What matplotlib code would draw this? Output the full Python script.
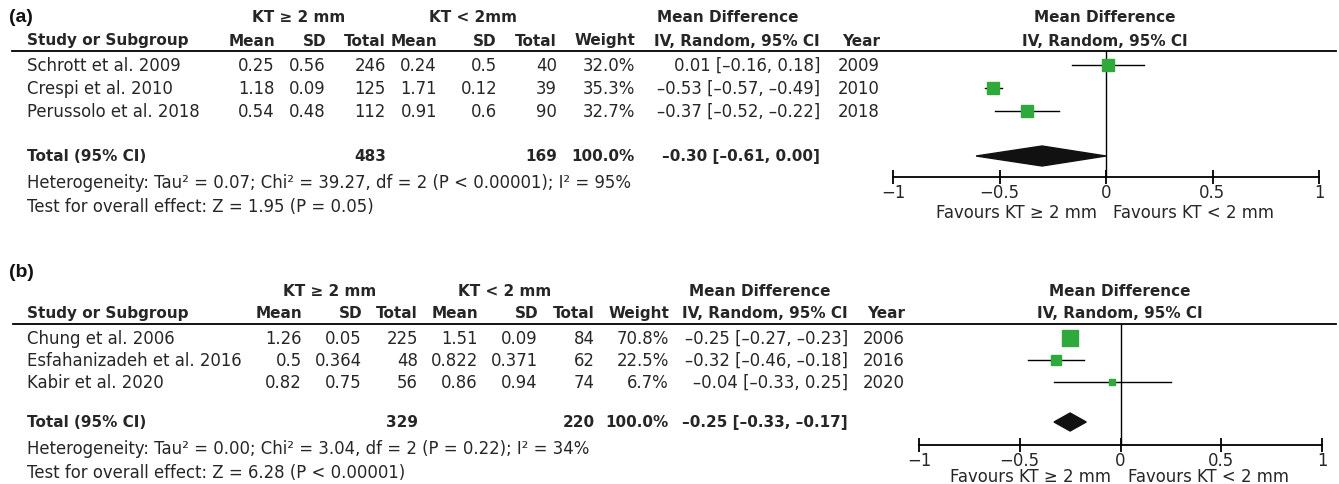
import matplotlib
matplotlib.use("Agg")
import matplotlib.pyplot as plt
from matplotlib.patches import Polygon

# ---- panel (a) data ----
a_study = ["Schrott et al. 2009", "Crespi et al. 2010", "Perussolo et al. 2018"]
a_mean1 = [0.25, 1.18, 0.54]
a_sd1 = [0.56, 0.09, 0.48]
a_n1 = [246, 125, 112]
a_mean2 = [0.24, 1.71, 0.91]
a_sd2 = [0.5, 0.12, 0.6]
a_n2 = [40, 39, 90]
a_weight = [32.0, 35.3, 32.7]
a_md = [0.01, -0.53, -0.37]
a_lo = [-0.16, -0.57, -0.52]
a_hi = [0.18, -0.49, -0.22]
a_year = [2009, 2010, 2018]
a_total = (483, 169, 100.0, -0.30, -0.61, 0.00)
a_het = "Heterogeneity: Tau\u00b2 = 0.07; Chi\u00b2 = 39.27, df = 2 (P < 0.00001); I\u00b2 = 95%"
a_test = "Test for overall effect: Z = 1.95 (P = 0.05)"

# ---- panel (b) data ----
b_study = ["Chung et al. 2006", "Esfahanizadeh et al. 2016", "Kabir et al. 2020"]
b_mean1 = [1.26, 0.5, 0.82]
b_sd1 = [0.05, 0.364, 0.75]
b_n1 = [225, 48, 56]
b_mean2 = [1.51, 0.822, 0.86]
b_sd2 = [0.09, 0.371, 0.94]
b_n2 = [84, 62, 74]
b_weight = [70.8, 22.5, 6.7]
b_md = [-0.25, -0.32, -0.04]
b_lo = [-0.27, -0.46, -0.33]
b_hi = [-0.23, -0.18, 0.25]
b_year = [2006, 2016, 2020]
b_total = (329, 220, 100.0, -0.25, -0.33, -0.17)
b_het = "Heterogeneity: Tau\u00b2 = 0.00; Chi\u00b2 = 3.04, df = 2 (P = 0.22); I\u00b2 = 34%"
b_test = "Test for overall effect: Z = 6.28 (P < 0.00001)"

ticks = [-1, -0.5, 0, 0.5, 1]
tick_labels = ["\u22121", "\u22120.5", "0", "0.5", "1"]

W, H = 1339, 485
GREEN = "#2fa83c"
TXT = "#262626"
FS = 11.9      # plain text
FSB = 11.0     # bold headers


def num(v, fmt="{:g}"):
    return fmt.format(v).replace("-", "\u2013")


def ci(md, lo, hi):
    return "{} [{}, {}]".format(num(md, "{:.2f}"), num(lo, "{:.2f}"), num(hi, "{:.2f}"))


fig = plt.figure(figsize=(W / 100, H / 100), dpi=100)
fig.patch.set_facecolor("white")
tx = fig.add_axes([0, 0, 1, 1])
tx.set_xlim(0, W)
tx.set_ylim(H, 0)
tx.axis("off")


def t(x, y, s, ha="left", bold=False, size=None):
    if size is None:
        size = FSB if bold else FS
    tx.text(x, y, s, ha=ha, va="center", fontsize=size, color=TXT,
            fontweight="bold" if bold else "normal")


def panel(label, y0, cols, grp, study, m1, s1, n1, m2, s2, n2, w, md, lo, hi, yr,
          total, het, test, fx):
    # y0: header line; cols: right edges of the numeric columns
    tx.text(9, y0 - 35 + cols["l_off"], label, ha="left", va="center",
            fontsize=14, fontweight="bold", family="Liberation Sans", color="#111111")
    gy = y0 - 34 + cols["g_off"]
    t(grp[0], gy, "KT \u2265 2 mm", ha="center", bold=True)
    t(grp[1], gy, cols["kt2"], ha="center", bold=True)
    t(grp[2], gy, "Mean Difference", ha="center", bold=True)
    t(fx["mid"], gy, "Mean Difference", ha="center", bold=True)
    hy = y0 - 11
    t(27, hy, "Study or Subgroup", bold=True)
    heads = ["Mean", "SD", "Total", "Mean", "SD", "Total", "Weight",
             "IV, Random, 95% CI", "Year"]
    for x, h in zip(cols["r"], heads):
        t(x, hy, h, ha="right", bold=True)
    t(fx["mid"], hy, "IV, Random, 95% CI", ha="center", bold=True)
    tx.plot([cols["line"][0], cols["line"][1]], [y0, y0], color="black", lw=1.3)

    r = cols["r"]
    for i in range(len(study)):
        y = y0 + cols["row"][i]
        t(27, y, study[i])
        vals = [num(m1[i]), num(s1[i]), str(n1[i]), num(m2[i]), num(s2[i]),
                str(n2[i]), "{:.1f}%".format(w[i]), ci(md[i], lo[i], hi[i]), str(yr[i])]
        for x, v in zip(r, vals):
            t(x, y, v, ha="right")
    ty = y0 + cols["tot"]
    t(27, ty, "Total (95% CI)", bold=True)
    t(r[2], ty, str(total[0]), ha="right", bold=True)
    t(r[5], ty, str(total[1]), ha="right", bold=True)
    t(r[6], ty, "{:.1f}%".format(total[2]), ha="right", bold=True)
    t(r[7], ty, ci(total[3], total[4], total[5]), ha="right", bold=True)
    t(27, y0 + cols["het"], het)
    t(27, y0 + cols["het"] + 24, test)

    # forest plot: x in effect units, y in pixels below header line
    x0, x1, yb = fx["x0"], fx["x1"], fx["axis"]
    ax = fig.add_axes([x0 / W, 1 - (y0 + yb) / H, (x1 - x0) / W, yb / H])
    ax.set_xlim(-1, 1)
    ax.set_ylim(yb, 0)
    ax.patch.set_alpha(0)
    for s in ["top", "right", "left"]:
        ax.spines[s].set_visible(False)
    ax.spines["bottom"].set_linewidth(1.3)
    ax.set_yticks([])
    ax.set_xticks(ticks)
    ax.set_xticklabels(tick_labels, fontsize=FS, color=TXT)
    ax.tick_params(axis="x", direction="inout", length=10, width=1.3, pad=-1)
    ax.axvline(0, color="black", lw=1.0)
    for i in range(len(md)):
        y = cols["row"][i]
        ax.plot([lo[i], hi[i]], [y, y], color="black", lw=1.0, zorder=2)
        side = fx["k"] * w[i] ** 0.5
        ax.plot(md[i], y, marker="s", ms=side * 0.72, color=GREEN, mec=GREEN,
                zorder=3)
    dh = fx["dh"]
    ax.add_patch(Polygon([(total[4], cols["tot"]), (total[3], cols["tot"] - dh),
                          (total[5], cols["tot"]), (total[3], cols["tot"] + dh)],
                         closed=True, color="#111111", zorder=3))
    zx = fx["x0"] + (x1 - x0) / 2
    fy = y0 + yb + fx["fav"]
    t(zx - 9, fy, "Favours KT \u2265 2 mm", ha="right")
    t(zx + 7, fy, "Favours KT < 2 mm", ha="left")


panel("(a)", 52,
      dict(l_off=0, g_off=0, kt2="KT < 2mm",
           r=[275, 326, 386, 437, 497, 557, 635, 820, 880],
           line=(12, 1336), row=[14, 37, 60], tot=105, het=131),
      [299, 473, 728],
      a_study, a_mean1, a_sd1, a_n1, a_mean2, a_sd2, a_n2, a_weight,
      a_md, a_lo, a_hi, a_year, a_total, a_het, a_test,
      dict(x0=893, x1=1319, axis=126, mid=1105, k=1.95, dh=10, fav=35))

panel("(b)", 325,
      dict(l_off=-17, g_off=1, kt2="KT < 2 mm",
           r=[302, 362, 418, 478, 538, 595, 669, 848, 905],
           line=(13, 1336), row=[14, 36, 58], tot=98, het=124),
      [330, 505, 760],
      b_study, b_mean1, b_sd1, b_n1, b_mean2, b_sd2, b_n2, b_weight,
      b_md, b_lo, b_hi, b_year, b_total, b_het, b_test,
      dict(x0=919, x1=1322, axis=121, mid=1120, k=2.0, dh=9, fav=31))

fig.savefig("out.png", dpi=100, facecolor="white")
